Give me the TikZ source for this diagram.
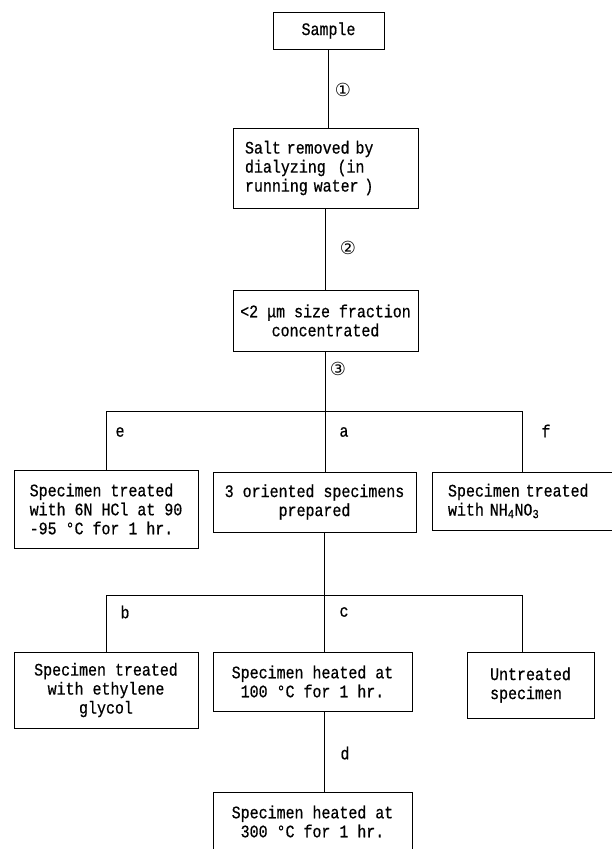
\documentclass[tikz,border=0pt]{standalone}
\usepackage{fontspec}
\newfontfamily\mono{Liberation Mono}[FakeStretch=0.85, WordSpace={1,0,0}, FakeBold=0.6]
\newfontfamily\dv{DejaVu Sans}
\begin{document}
\begin{tikzpicture}[x=1pt,y=-1pt,
  box/.style={draw, line width=0.9pt, inner sep=0pt, font=\mono\fontsize{17.6}{19}\selectfont, align=center},
  lbl/.style={font=\mono\fontsize{17.6}{19}\selectfont, inner sep=0pt},
  circ/.style={font=\dv\fontsize{18}{18}\selectfont, inner sep=0pt},
  conn/.style={line width=0.9pt}]
\useasboundingbox (0,0) rectangle (612,849);

\node[box, minimum width=111pt, minimum height=37pt] (sample) at (328.5,30.5) {Sample};
\node[box, minimum width=185pt, minimum height=80pt, text width=161pt, inner xsep=12pt, align=left] (salt) at (325.5,168) {Salt removed by\\dialyzing\ \ (in\\running water )};
\node[box, minimum width=185pt, minimum height=61pt] (conc) at (325.5,320.5) {<2 μm size fraction\\concentrated};

\node[box, minimum width=184pt, minimum height=78pt, align=left] (e) at (106,509) {Specimen treated\\with 6N HCl at 90\\-95 °C for 1 hr.};
\node[box, minimum width=203pt, minimum height=60pt] (a) at (314.5,502) {3 oriented specimens\\prepared};
\node[box, minimum width=181pt, minimum height=58pt, text width=149pt, inner xsep=16pt, align=left] (f) at (522.5,501) {Specimen treated\\with NH\textsubscript{4}NO\textsubscript{3}};

\node[box, minimum width=184pt, minimum height=76pt] (b) at (106,690) {Specimen treated\\with ethylene\\glycol};
\node[box, minimum width=199pt, minimum height=59pt] (c) at (312.5,681.5) {Specimen heated at\\100 °C for 1 hr.};
\node[box, minimum width=127pt, minimum height=66pt, align=left] (u) at (530.5,685) {Untreated\\specimen};
\node[box, minimum width=199pt, minimum height=59pt] (d) at (312.5,821.5) {Specimen heated at\\300 °C for 1 hr.};

\coordinate (j1) at (325.5,411);
\coordinate (j2) at (324,595);
\coordinate (ju) at (522,595);

\draw[conn] (sample.south) -- (sample.south |- salt.north);
\draw[conn] (salt.south) -- (conc.north);
\draw[conn] (conc.south) -- (conc.south |- a.north);
\draw[conn] (e.north) -- (e.north |- j1) -- (f.north |- j1) -- (f.north);
\draw[conn] (a.south -| j2) -- (c.north -| j2);
\draw[conn] (b.north) -- (b.north |- j2) -- (ju) -- (ju |- u.north);
\draw[conn] (c.south -| j2) -- (d.north -| j2);

\node[circ] (n1) at (343,90) {①};
\node[circ] (n2) at (348,248) {②};
\node[circ] (n3) at (338,369) {③};
\node[lbl] (le) at (120,432) {e};
\node[lbl] (la) at (344,432) {a};
\node[lbl] (lf) at (546,431) {f};
\node[lbl] (lb) at (125,612) {b};
\node[lbl] (lc) at (344,612) {c};
\node[lbl] (ld) at (345,753) {d};
\end{tikzpicture}
\end{document}
